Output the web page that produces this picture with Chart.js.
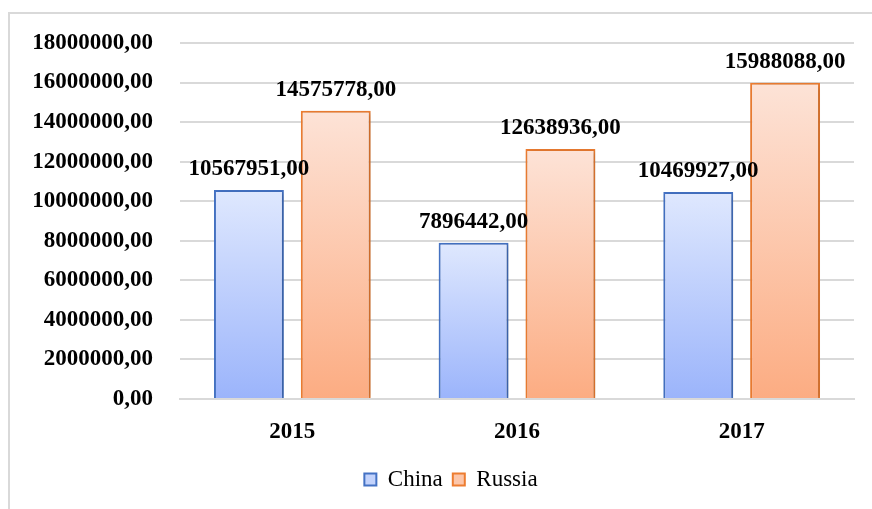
<!DOCTYPE html>
<html>
<head>
<meta charset="utf-8">
<script src="https://cdn.jsdelivr.net/npm/chart.js@4/dist/chart.umd.min.js"></script>
<style>
  html, body { margin: 0; padding: 0; background: #fff; overflow: hidden; }
  #wrap { position: relative; width: 872px; height: 509px; }
  #frame { position: absolute; left: 8px; top: 12px; width: 900px; height: 600px; border: 2px solid #d9d9d9; box-sizing: border-box; }
  canvas { position: absolute; left: 0; top: 0; }
</style>
</head>
<body>
<div id="wrap">
  <div id="frame"></div>
  <canvas id="c" width="872" height="509"></canvas>
</div>
<script>
const categories = ['2015', '2016', '2017'];
const chinaValues = [10567951, 7896442, 10469927];
const russiaValues = [14575778, 12638936, 15988088];
const yTicks = [0, 2000000, 4000000, 6000000, 8000000, 10000000, 12000000, 14000000, 16000000, 18000000];

const FONT = "'Liberation Serif', 'Times New Roman', serif";
Chart.defaults.font.family = FONT;
const fmt = v => Number(v).toFixed(2).replace('.', ',');

function gradFill(top, bottom) {
  return function (ctx) {
    const chart = ctx.chart;
    if (!chart.chartArea || ctx.raw === undefined) return bottom;
    const y = chart.scales.y;
    const yTop = y.getPixelForValue(ctx.raw);
    const yBot = y.getPixelForValue(0);
    const g = chart.ctx.createLinearGradient(0, yTop, 0, yBot);
    g.addColorStop(0, top);
    g.addColorStop(1, bottom);
    return g;
  };
}

const shadowPlugin = {
  id: 'shadow',
  beforeDatasetsDraw(chart) {
    const c = chart.ctx;
    c.save();
    c.shadowColor = 'rgba(0,0,0,0.22)';
    c.shadowBlur = 5;
    c.shadowOffsetX = 2;
    c.shadowOffsetY = 1;
  },
  afterDatasetsDraw(chart) {
    chart.ctx.restore();
  }
};

const legendShift = {
  id: 'legendShift',
  afterLayout(chart) {
    if (chart.legend) {
      chart.legend.left += 24;
      chart.legend.right += 24;
    }
  }
};

const labelPlugin = {
  id: 'barLabels',
  afterDatasetsDraw(chart) {
    const c = chart.ctx;
    c.save();
    c.font = 'bold 23px ' + FONT;
    c.fillStyle = '#000';
    c.textAlign = 'center';
    c.textBaseline = 'alphabetic';
    chart.data.datasets.forEach((ds, di) => {
      const meta = chart.getDatasetMeta(di);
      meta.data.forEach((bar, i) => {
        c.fillText(fmt(ds.data[i]), bar.x, bar.y - 15);
      });
    });
    c.restore();
  }
};

new Chart(document.getElementById('c'), {
  type: 'bar',
  data: {
    labels: categories,
    datasets: [
      {
        label: 'China',
        data: chinaValues,
        backgroundColor: gradFill('#dfe8fe', '#9bb4fb'),
        borderColor: '#4472c4',
        borderWidth: 2,
        categoryPercentage: 0.773,
        barPercentage: 0.805
      },
      {
        label: 'Russia',
        data: russiaValues,
        backgroundColor: gradFill('#fde3d7', '#fcac82'),
        borderColor: '#ed7d31',
        borderWidth: 2,
        categoryPercentage: 0.773,
        barPercentage: 0.805
      }
    ]
  },
  options: {
    responsive: false,
    devicePixelRatio: 1,
    animation: false,
    layout: { padding: { top: 43, right: 18, bottom: 8, left: 0 } },
    plugins: {
      tooltip: { enabled: false },
      legend: {
        position: 'bottom',
        labels: {
          font: { family: FONT, size: 23, weight: 'normal' },
          color: '#000',
          boxWidth: 12,
          boxHeight: 12,
          padding: 10,
          generateLabels(chart) {
            const fills = ['#c3d3fc', '#fcc6aa'];
            return chart.data.datasets.map((ds, i) => ({
              text: ds.label,
              fillStyle: fills[i],
              strokeStyle: ds.borderColor,
              lineWidth: 2,
              fontColor: '#000',
              datasetIndex: i,
              hidden: false
            }));
          }
        }
      }
    },
    scales: {
      x: {
        grid: { display: false, drawTicks: false },
        border: { display: true, color: '#d9d9d9', width: 2 },
        ticks: { font: { family: FONT, size: 23, weight: 'bold' }, color: '#000', padding: 19 },
        afterFit(scale) { scale.height = 59; }
      },
      y: {
        min: 0,
        max: 18000000,
        afterBuildTicks(scale) { scale.ticks = yTicks.map(v => ({ value: v })); },
        grid: { color: '#d9d9d9', lineWidth: 2, drawTicks: false },
        border: { display: false },
        ticks: {
          font: { family: FONT, size: 23, weight: 'bold' },
          color: '#000',
          padding: 27,
          callback: v => fmt(v)
        },
        afterFit(scale) { scale.width = 180; }
      }
    }
  },
  plugins: [shadowPlugin, labelPlugin, legendShift]
});
</script>
</body>
</html>
